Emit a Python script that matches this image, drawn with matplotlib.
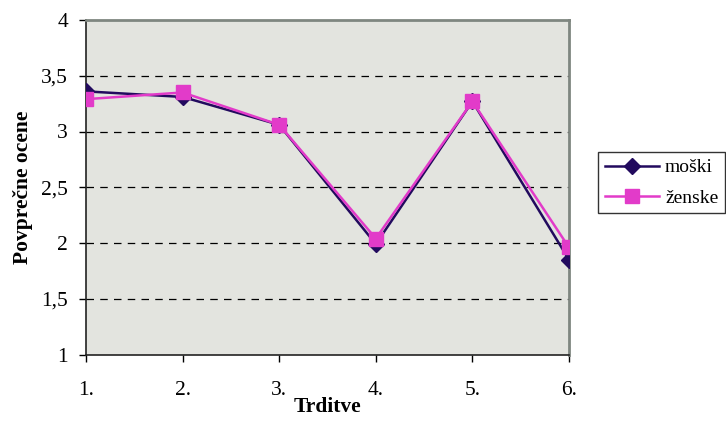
import numpy as np
import matplotlib
matplotlib.use("Agg")
import matplotlib.pyplot as plt
from matplotlib.ticker import FuncFormatter

plt.rcParams['font.family'] = ['Liberation Serif', 'DejaVu Serif']

categories = ['1.', '2.', '3.', '4.', '5.', '6.']
moski = [3.36, 3.31, 3.06, 1.99, 3.27, 1.85]
zenske = [3.29, 3.35, 3.06, 2.04, 3.27, 1.96]

fig = plt.figure(figsize=(7.26, 4.32), dpi=100)
ax = fig.add_axes([86 / 726, 1 - 354.5 / 432, (569 - 86) / 726, (354.5 - 20) / 432])

x = np.arange(len(categories))
ax.set_facecolor('#E3E4DF')
ax.plot(x, moski, color='#220A5E', lw=1.8, marker='D', ms=8, label='moški', zorder=3)
ax.plot(x, zenske, color='#E23BC9', lw=1.8, marker='s', ms=10, label='ženske', zorder=4)

ax.set_xlim(0, len(categories) - 1)
ax.set_ylim(1, 4)
ax.set_xticks(x)
ax.set_xticklabels(categories)
ax.set_yticks(np.arange(1, 4.01, 0.5))
ax.yaxis.set_major_formatter(FuncFormatter(lambda v, p: f'{v:g}'.replace('.', ',')))

for yv in np.arange(1.5, 3.6, 0.5):
    ax.axhline(yv, color='black', lw=0.9, ls=(0, (6, 5)), zorder=1)

for side in ('top', 'right'):
    ax.spines[side].set_color('#7F8680')
    ax.spines[side].set_linewidth(2)
for side in ('left', 'bottom'):
    ax.spines[side].set_color('#222222')
    ax.spines[side].set_linewidth(1.2)

ax.tick_params(direction='out', length=5, width=1, labelsize=15.5, pad=8)
ax.tick_params(axis='x', pad=14)

ax.set_xlabel('Trditve', fontsize=15.5, fontweight='bold', labelpad=-2)
ax.set_ylabel('Povprečne ocene', fontsize=15.5, fontweight='bold', labelpad=6)

leg = fig.legend(loc='upper left', bbox_to_anchor=(598 / 726, 1 - 152 / 432),
                 fontsize=14, frameon=True, fancybox=False, edgecolor='black',
                 borderpad=0.35, handlelength=2.8, handletextpad=0.3,
                 labelspacing=0.65, borderaxespad=0)
leg.get_frame().set_linewidth(1.0)

fig.savefig('out.png', dpi=100)
